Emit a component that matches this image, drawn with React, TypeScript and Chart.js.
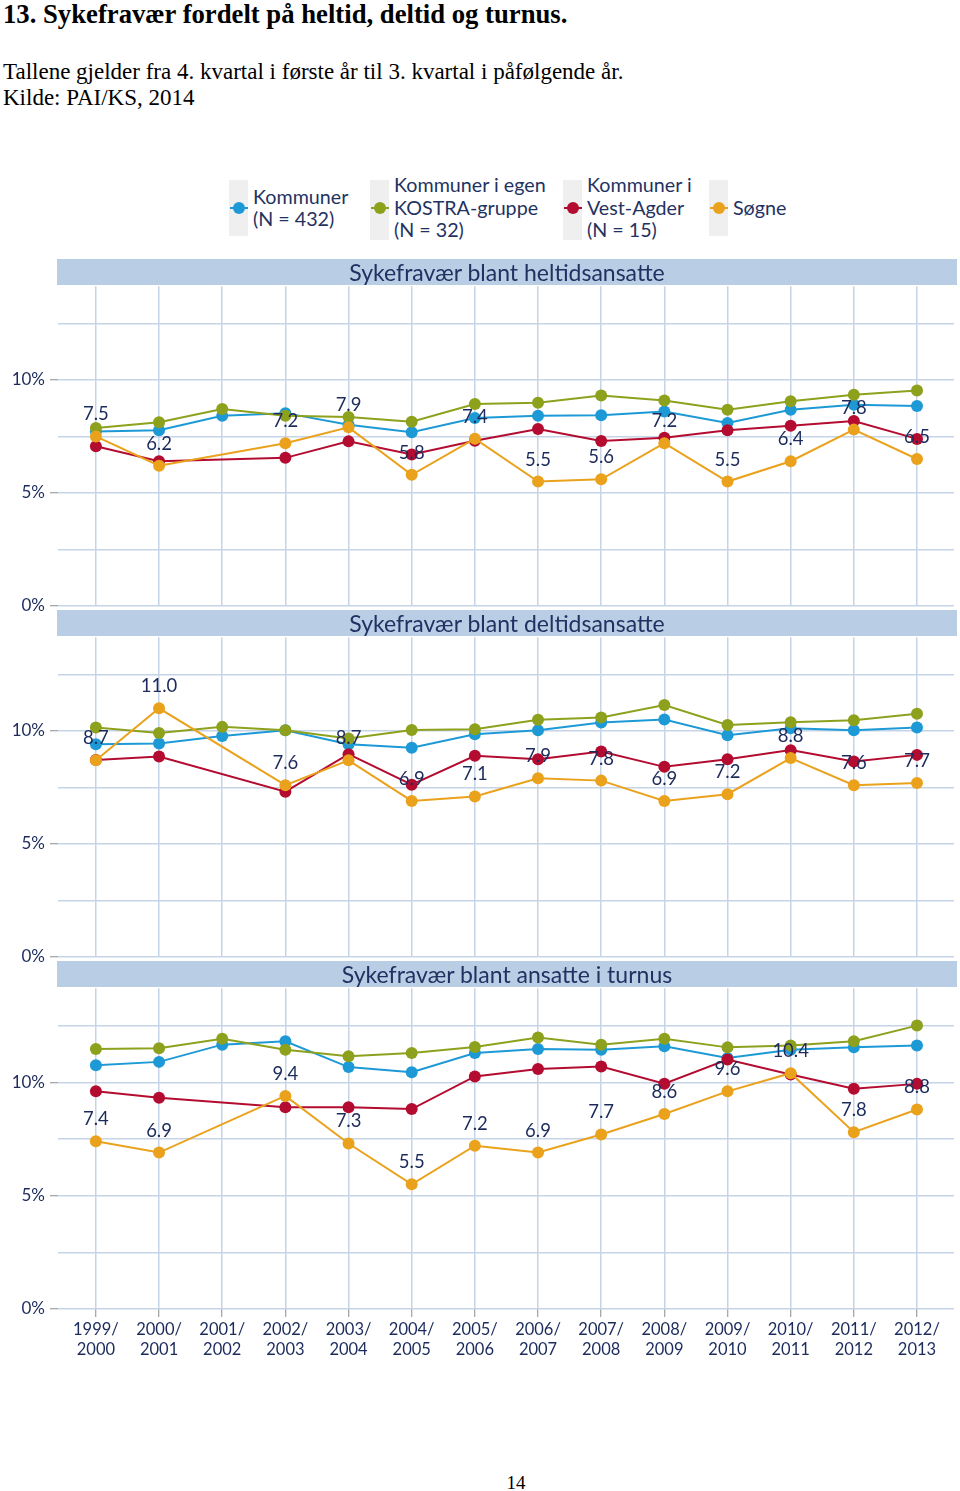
import React, { useEffect, useRef } from "react";
import { Chart, registerables } from "chart.js";

Chart.register(...registerables);

// ---------- DATA ----------
const categories = [
  "1999/2000", "2000/2001", "2001/2002", "2002/2003", "2003/2004", "2004/2005", "2005/2006",
  "2006/2007", "2007/2008", "2008/2009", "2009/2010", "2010/2011", "2011/2012", "2012/2013",
];
const tickLabels = categories.map((c) => {
  const [a, b] = c.split("/");
  return [a + "/", b];
});

const seriesNames = ["Kommuner (N = 432)", "Kommuner i egen KOSTRA-gruppe (N = 32)", "Kommuner i Vest-Agder (N = 15)", "Søgne"];

const panelTitles = ["Sykefravær blant heltidsansatte", "Sykefravær blant deltidsansatte", "Sykefravær blant ansatte i turnus"];

// Heltid
const kommunerHeltid = [7.72, 7.77, 8.41, 8.53, 8.02, 7.68, 8.31, 8.41, 8.44, 8.6, 8.09, 8.68, 8.9, 8.85];
const kostraHeltid = [7.87, 8.13, 8.71, 8.41, 8.36, 8.15, 8.93, 8.99, 9.31, 9.09, 8.68, 9.06, 9.34, 9.53];
const vestAgderHeltid = [7.06, 6.4, null, 6.55, 7.28, 6.7, 7.31, 7.83, 7.3, 7.44, 7.77, 7.97, 8.18, 7.39];
const sogneHeltid = [7.5, 6.2, null, 7.2, 7.9, 5.8, 7.4, 5.5, 5.6, 7.2, 5.5, 6.4, 7.8, 6.5];

// Deltid
const kommunerDeltid = [9.41, 9.44, 9.78, 10.03, 9.41, 9.26, 9.85, 10.03, 10.37, 10.51, 9.81, 10.12, 10.03, 10.15];
const kostraDeltid = [10.15, 9.91, 10.18, 10.03, 9.66, 10.04, 10.07, 10.5, 10.6, 11.15, 10.26, 10.38, 10.47, 10.76];
const vestAgderDeltid = [8.71, 8.87, null, 7.31, 8.97, 7.62, 8.9, 8.75, 9.09, 8.41, 8.75, 9.15, 8.65, 8.94];
const sogneDeltid = [8.7, 11.0, null, 7.6, 8.7, 6.9, 7.1, 7.9, 7.8, 6.9, 7.2, 8.8, 7.6, 7.7];

// Turnus
const kommunerTurnus = [10.75, 10.9, 11.66, 11.81, 10.67, 10.44, 11.29, 11.47, 11.44, 11.59, 11.07, 11.44, 11.54, 11.62];
const kostraTurnus = [11.47, 11.5, 11.92, 11.44, 11.15, 11.29, 11.56, 11.98, 11.66, 11.92, 11.54, 11.62, 11.81, 12.5];
const vestAgderTurnus = [9.6, 9.32, null, 8.9, 8.9, 8.82, 10.26, 10.59, 10.7, 9.94, 11.0, 10.34, 9.72, 9.93];
const sogneTurnus = [7.4, 6.9, null, 9.4, 7.3, 5.5, 7.2, 6.9, 7.7, 8.6, 9.6, 10.4, 7.8, 8.8];

const yTickValues = [0, 2.5, 5, 7.5, 10, 12.5];
const yTickLabels = ["0%", "", "5%", "", "10%", ""];

// ---------- STYLE ----------
const BLUE = "#1d9ad6";
const GREEN = "#8ea11d";
const RED = "#b30c30";
const ORANGE = "#eaa21c";
const NAVY = "#1c2b5c";
const GRID = "#c6d4e7";
const TICK = "#8d8d8d";
const HEADER_BG = "#b9cde5";
const FONT = "Lato, 'Noto Sans', sans-serif";

const PANEL_STRIDE = 351;
const PLOT_TOP0 = 285;
const PLOT_H = 322;
const PAD_T = 14;

type Series = (number | null)[];

function makeDataset(label: string, values: Series, color: string, order: number) {
  return {
    label,
    data: values.map((v, i) => ({ x: i, y: v })),
    borderColor: color,
    backgroundColor: color,
    borderWidth: 2,
    pointRadius: 6,
    pointHoverRadius: 6,
    pointBorderWidth: 0,
    pointBackgroundColor: color,
    spanGaps: true,
    tension: 0,
    clip: false as any,
    order,
  };
}

function Panel(props: { index: number; k: Series; kostra: Series; va: Series; sogne: Series; showX: boolean }) {
  const ref = useRef<HTMLCanvasElement>(null);
  const { index, k, kostra, va, sogne, showX } = props;
  const xH = showX ? 60 : 0;
  const padB = showX ? 5 : 14;
  const height = PAD_T + PLOT_H + xH + padB;
  const top = PLOT_TOP0 + PANEL_STRIDE * index - PAD_T;

  useEffect(() => {
    const labelPlugin = {
      id: "sogneLabels",
      afterDatasetsDraw(chart: any) {
        const meta = chart.getDatasetMeta(0);
        const c = chart.ctx;
        c.save();
        c.font = `18.5px ${FONT}`;
        c.fillStyle = NAVY;
        c.textAlign = "center";
        c.textBaseline = "middle";
        meta.data.forEach((pt: any, i: number) => {
          const v = sogne[i];
          if (v == null) return;
          c.fillText(v.toFixed(1), pt.x, pt.y - 22);
        });
        c.restore();
      },
    };

    const chart = new Chart(ref.current as HTMLCanvasElement, {
      type: "line",
      data: {
        datasets: [
          makeDataset(seriesNames[3], sogne, ORANGE, 0),
          makeDataset(seriesNames[2], va, RED, 1),
          makeDataset(seriesNames[1], kostra, GREEN, 2),
          makeDataset(seriesNames[0], k, BLUE, 3),
        ] as any,
      },
      options: {
        animation: false,
        responsive: false,
        events: [],
        layout: { padding: { top: PAD_T, bottom: padB, left: 0, right: 5 } },
        plugins: { legend: { display: false }, tooltip: { enabled: false }, title: { display: false } },
        scales: {
          x: {
            type: "linear",
            min: -0.6,
            max: 13.586,
            afterBuildTicks: (s: any) => {
              s.ticks = categories.map((_, i) => ({ value: i }));
            },
            afterFit: (s: any) => {
              s.height = xH;
            },
            ticks: {
              display: showX,
              autoSkip: false,
              maxRotation: 0,
              minRotation: 0,
              padding: 3,
              color: NAVY,
              font: { family: FONT, size: 16.5, lineHeight: 1.2 },
              callback: (_v: any, i: number) => tickLabels[i],
            },
            grid: { color: GRID, lineWidth: 1.5, drawTicks: showX, tickLength: 8, tickColor: TICK, tickWidth: 1 },
            border: { display: false },
          },
          y: {
            min: 0,
            max: 14.15,
            afterBuildTicks: (s: any) => {
              s.ticks = yTickValues.map((v) => ({ value: v }));
            },
            afterFit: (s: any) => {
              s.width = 58;
            },
            ticks: {
              padding: 5,
              color: NAVY,
              font: { family: FONT, size: 17 },
              callback: (v: any) => {
                const i = yTickValues.indexOf(Number(v));
                return i >= 0 ? yTickLabels[i] : "";
              },
            },
            grid: {
              color: GRID,
              lineWidth: 1.5,
              tickLength: 8,
              tickWidth: 1,
              tickColor: (ctx: any) => (ctx.tick && ctx.tick.value % 5 === 0 ? TICK : "rgba(0,0,0,0)"),
            },
            border: { display: false },
          },
        },
      },
      plugins: [labelPlugin as any],
    } as any);
    return () => chart.destroy();
  }, []);

  return (
    <canvas
      ref={ref}
      width={960}
      height={height}
      style={{ position: "absolute", left: 0, top, width: 960, height }}
    />
  );
}

function LegendItem(props: { x: number; boxTop: number; boxH: number; color: string; lines: string[] }) {
  const { x, boxTop, boxH, color, lines } = props;
  const lh = 22.5;
  const cy = 208;
  const textTop = cy - (lines.length * lh) / 2;
  return (
    <>
      <div style={{ position: "absolute", left: x - 10, top: boxTop, width: 19, height: boxH, background: "#efefef" }} />
      <div style={{ position: "absolute", left: x - 9, top: cy - 1, width: 18, height: 2, background: color }} />
      <div style={{ position: "absolute", left: x - 6, top: cy - 6, width: 12, height: 12, borderRadius: 6, background: color }} />
      <div
        style={{
          position: "absolute",
          left: x + 14,
          top: textTop,
          fontFamily: FONT,
          fontSize: 19.7,
          lineHeight: lh + "px",
          color: "#1f3262",
          whiteSpace: "nowrap",
        }}
      >
        {lines.map((l, i) => (
          <div key={i}>{l}</div>
        ))}
      </div>
    </>
  );
}

export default function App() {
  return (
    <div style={{ position: "absolute", left: 0, top: 0, width: 960, height: 1491, overflow: "hidden", background: "#fff" }}>
      <div style={{ position: "absolute", left: 3, top: 0, fontFamily: "'Liberation Serif', serif", fontWeight: "bold", fontSize: 26.7, lineHeight: "28px", color: "#000", whiteSpace: "nowrap" }}>
        13. Sykefravær fordelt på heltid, deltid og turnus.
      </div>
      <div style={{ position: "absolute", left: 3, top: 59, fontFamily: "'Liberation Serif', serif", fontSize: 23, lineHeight: "26px", color: "#000", whiteSpace: "nowrap" }}>
        <div>Tallene gjelder fra 4. kvartal i første år til 3. kvartal i påfølgende år.</div>
        <div>Kilde: PAI/KS, 2014</div>
      </div>

      <LegendItem x={239} boxTop={180} boxH={56} color={BLUE} lines={["Kommuner", "(N = 432)"]} />
      <LegendItem x={380} boxTop={180} boxH={60} color={GREEN} lines={["Kommuner i egen", "KOSTRA-gruppe", "(N = 32)"]} />
      <LegendItem x={573} boxTop={180} boxH={60} color={RED} lines={["Kommuner i", "Vest-Agder", "(N = 15)"]} />
      <LegendItem x={719} boxTop={180} boxH={56} color={ORANGE} lines={["Søgne"]} />

      <Panel index={0} k={kommunerHeltid} kostra={kostraHeltid} va={vestAgderHeltid} sogne={sogneHeltid} showX={false} />
      <Panel index={1} k={kommunerDeltid} kostra={kostraDeltid} va={vestAgderDeltid} sogne={sogneDeltid} showX={false} />
      <Panel index={2} k={kommunerTurnus} kostra={kostraTurnus} va={vestAgderTurnus} sogne={sogneTurnus} showX={true} />

      {panelTitles.map((t, i) => (
        <div
          key={t}
          style={{
            position: "absolute",
            left: 57,
            top: 259 + PANEL_STRIDE * i,
            width: 900,
            height: 26,
            background: HEADER_BG,
            color: "#1f3262",
            fontFamily: FONT,
            fontSize: 23,
            lineHeight: "27px",
            textAlign: "center",
            whiteSpace: "nowrap",
          }}
        >
          {t}
        </div>
      ))}

      <div style={{ position: "absolute", left: 0, width: 1032, top: 1472, textAlign: "center", fontFamily: "'Liberation Serif', serif", fontSize: 19, lineHeight: "22px", color: "#000" }}>
        14
      </div>
    </div>
  );
}
